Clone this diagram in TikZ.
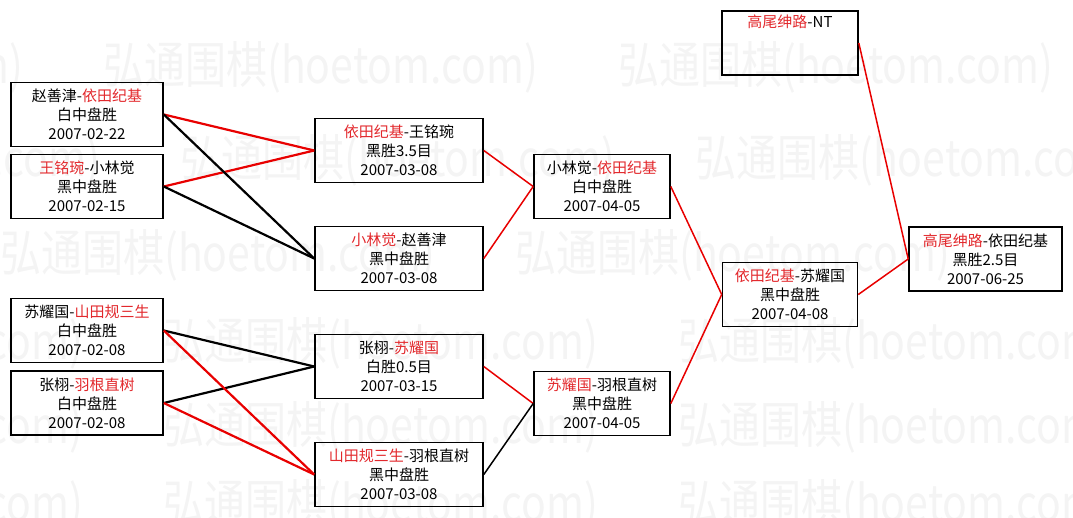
\documentclass[tikz,border=0pt]{standalone}
\usepackage{fontspec}
\usepackage{tikz}
\newfontfamily\cjk{Noto Sans CJK SC}
\definecolor{winred}{RGB}{226,40,44}
\definecolor{linered}{RGB}{232,0,0}
\definecolor{markgray}{RGB}{244,244,244}
\newcommand{\win}[1]{\textcolor{winred}{#1}}
\tikzset{
  game/.style={draw=black,line width=1.6pt,inner sep=0pt,minimum height=64pt,
    align=center,font=\cjk\fontsize{15}{19}\selectfont},
  redline/.style={draw=linered,line width=1.5pt},
  blackline/.style={draw=black,line width=1.5pt},
  wmark/.style={anchor=west,inner sep=0pt,text=markgray,font=\cjk\fontsize{50}{50}\selectfont}
}

\begin{document}
\begin{tikzpicture}[x=1pt,y=-1pt]
\useasboundingbox (0,0) rectangle (1073,517);
% watermark rows:
\begin{scope}
\clip (0,0) rectangle (1073,517);
\foreach \y/\x [count=\r] in {67/103,160/180,255/0,343/163,427/163,505/163}
  \foreach \k in {-1,0,1}
    \node[wmark] (wm-\r-\k) at (\x+\k*515,\y) {\scalebox{0.82}[1]{弘通围棋(hoetom.com)}};
\end{scope}
% round 1:
\node[game,minimum width=152pt] (zhao) at (87,114.5) {赵善津-\win{依田纪基}\\白中盘胜\\2007-02-22};
\node[game,minimum width=152pt] (wang) at (87,186.5) {\win{王铭琬}-小林觉\\黑中盘胜\\2007-02-15};
\node[game,minimum width=152pt] (su) at (87,330.5) {苏耀国-\win{山田规三生}\\白中盘胜\\2007-02-08};
\node[game,minimum width=152pt] (zhang) at (87,403) {张栩-\win{羽根直树}\\白中盘胜\\2007-02-08};
% round 2:
\node[game,minimum width=168pt] (yoda2) at (399,150.5) {\win{依田纪基}-王铭琬\\黑胜3.5目\\2007-03-08};
\node[game,minimum width=168pt] (koba2) at (399,258.5) {\win{小林觉}-赵善津\\黑中盘胜\\2007-03-08};
\node[game,minimum width=168pt] (zhang2) at (399,366.5) {张栩-\win{苏耀国}\\白胜0.5目\\2007-03-15};
\node[game,minimum width=168pt] (yama2) at (399,474.5) {\win{山田规三生}-羽根直树\\黑中盘胜\\2007-03-08};
% round 3:
\node[game,minimum width=136pt] (yoda3) at (602,186.5) {小林觉-\win{依田纪基}\\白中盘胜\\2007-04-05};
\node[game,minimum width=136pt] (su3) at (602,403.5) {\win{苏耀国}-羽根直树\\黑中盘胜\\2007-04-05};
% round 4:
\node[game,minimum width=135pt] (yoda4) at (790,294.5) {\win{依田纪基}-苏耀国\\黑中盘胜\\2007-04-08};
\node[game,minimum width=136pt] (takao) at (790,43) {\win{高尾绅路}-NT\\\strut\\\strut};
% final:
\node[game,minimum width=153pt] (final) at (985.5,259) {\win{高尾绅路}-依田纪基\\黑胜2.5目\\2007-06-25};
% connectors:
\draw[redline,line width=2.2pt] (zhao.east) -- (yoda2.west);
\draw[redline,line width=2.2pt] (wang.east) -- (yoda2.west);
\draw[blackline,line width=2.2pt] (zhao.east) -- (koba2.west);
\draw[blackline,line width=2.2pt] (wang.east) -- (koba2.west);
\draw[blackline,line width=2.2pt] (su.east) -- (zhang2.west);
\draw[blackline,line width=2.2pt] (zhang.east) -- (zhang2.west);
\draw[redline,line width=2.2pt] (su.east) -- (yama2.west);
\draw[redline,line width=2.2pt] (zhang.east) -- (yama2.west);
\draw[redline] (yoda2.east) -- (yoda3.west);
\draw[redline] (koba2.east) -- (yoda3.west);
\draw[redline] (zhang2.east) -- (su3.west);
\draw[blackline] (yama2.east) -- (su3.west);
\draw[redline] (yoda3.east) -- (yoda4.west);
\draw[redline] (su3.east) -- (yoda4.west);
\draw[redline] (yoda4.east) -- (final.west);
\draw[redline] (takao.east) -- (final.west);
\end{tikzpicture}
\end{document}
